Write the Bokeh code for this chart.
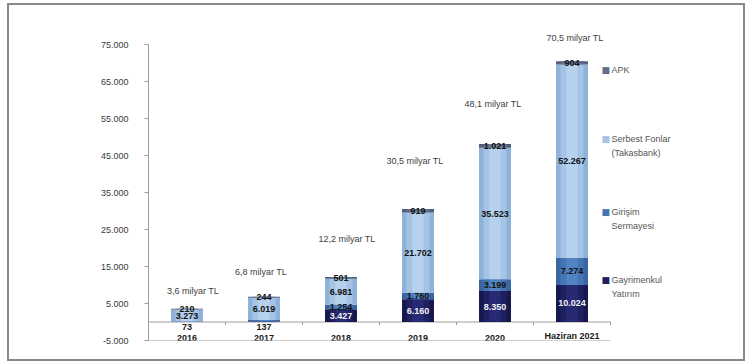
from bokeh.plotting import figure
from bokeh.models import ColumnDataSource, Range1d, FixedTicker, Label, InlineStyleSheet
from bokeh.core.properties import value
from bokeh.embed import file_html
from bokeh.resources import INLINE

# --- data (million TL) ---
years = ["2016", "2017", "2018", "2019", "2020", "Haziran 2021"]
gayrimenkul = [73, 137, 3427, 6160, 8350, 10024]
girisim = [44, 400, 1254, 1760, 3199, 7274]
serbest = [3273, 6019, 6981, 21702, 35523, 52267]
apk = [210, 244, 501, 919, 1021, 904]
y_ticks = [-5000, 5000, 15000, 25000, 35000, 45000, 55000, 65000, 75000]

series_keys = ["gayrimenkul", "girisim", "serbest", "apk"]
series_labels = [["Gayrimenkul", "Yatırım"], ["Girişim", "Sermayesi"],
                 ["Serbest Fonlar", "(Takasbank)"], ["APK"]]
# column shading: outer edge, body, centre highlight
edge_colors = ["#16174d", "#3a65a3", "#8fb2d9", "#4f5d75"]
body_colors = ["#1e2060", "#4675b5", "#a4c3e5", "#5f6f8a"]
centre_colors = ["#272a72", "#5283c2", "#b6d1ee", "#6e7f9a"]

# --- layout geometry (pixels) ---
W, H = 753, 364
F_LEFT, F_BOTTOM = 148, 340
SLOT = 77                         # pixel width of one category slot
AX_TOP = 44                       # pixel row of the 75.000 tick
F_TOP = 20
y_lo, y_hi = y_ticks[0], y_ticks[-1]
upp = (y_hi - y_lo) / (F_BOTTOM - AX_TOP)   # y units per pixel
y_end = y_hi + (AX_TOP - F_TOP) * upp
x_end = (W - F_LEFT) / SLOT
n = len(years)
xs = [i + 0.5 for i in range(n)]          # category centres

def y_at(px):
    return y_hi - (px - AX_TOP) * upp

def x_at(px):
    return (px - F_LEFT) / SLOT

frame_css = InlineStyleSheet(css="""
:host { position: relative; }
:host::after {
  content: ""; position: absolute; left: 7px; top: 3px; width: 738px; height: 358px;
  border: 2px solid #8a8a8a; box-sizing: border-box; pointer-events: none;
}
""")

p = figure(width=W, height=H, x_range=Range1d(0, x_end), y_range=Range1d(y_lo, y_end),
           output_backend="svg", toolbar_location=None,
           min_border_left=F_LEFT, min_border_right=0,
           min_border_top=F_TOP, min_border_bottom=H - F_BOTTOM,
           stylesheets=[frame_css])
p.outline_line_color = None
p.xgrid.visible = False
p.ygrid.visible = False
p.background_fill_color = "white"
p.border_fill_color = "white"

# y axis
ax_col = "#a39c95"
p.yaxis.ticker = FixedTicker(ticks=y_ticks)
p.yaxis.bounds = (y_lo, y_hi)
p.yaxis.major_label_overrides = {t: f"{t:,}".replace(",", ".") for t in y_ticks}
p.yaxis.axis_line_color = ax_col
p.yaxis.major_tick_line_color = ax_col
p.yaxis.major_tick_out = 4
p.yaxis.major_tick_in = 0
p.yaxis.minor_tick_line_color = None
p.yaxis.major_label_standoff = 16
p.yaxis.major_label_text_font = "Liberation Sans"
p.yaxis.major_label_text_font_size = "9px"
p.yaxis.major_label_text_color = "#3a3a3a"
p.xaxis.visible = False

# zero line and bottom line of the category area
p.segment(x0=[0, 0], y0=[0, y_lo], x1=[n, n], y1=[0, y_lo], line_color=ax_col, line_width=1)

# small category-boundary ticks on the zero line
tick_len = 3 * upp
bounds_x = [i + 1 for i in range(n)]
p.segment(x0=bounds_x, y0=[0] * n, x1=bounds_x, y1=[-tick_len] * n, line_color=ax_col)

# stacked columns, drawn in three widths for a rounded look
src = ColumnDataSource(dict(x=xs, gayrimenkul=gayrimenkul, girisim=girisim,
                            serbest=serbest, apk=apk))
p.vbar_stack(series_keys, x="x", width=0.415, color=edge_colors, line_color=None, source=src)
p.vbar_stack(series_keys, x="x", width=0.30, color=body_colors, line_color=None, source=src)
p.vbar_stack(series_keys, x="x", width=0.15, color=centre_colors, line_color=None, source=src)

totals = [a + b + c + d for a, b, c, d in zip(gayrimenkul, girisim, serbest, apk)]

# segment value labels
lx, ly, lt, lc, loff = [], [], [], [], []
for i, xc in enumerate(xs):
    base = 0
    for key, vals in zip(series_keys, [gayrimenkul, girisim, serbest, apk]):
        v = vals[i]
        txt = f"{v:,}".replace(",", ".")
        if key == "gayrimenkul" and v < 1000:
            lx.append(xc); ly.append(0); lt.append(txt); lc.append("#1a1a1a"); loff.append(5)
        elif key == "girisim" and v < 1000:
            pass
        else:
            col = "#f2f2f2" if key == "gayrimenkul" else "#111111"
            lx.append(xc); ly.append(base + v / 2); lt.append(txt); lc.append(col); loff.append(0)
        base += v
p.text(x=lx, y=ly, text=lt, text_color=lc, y_offset=loff, text_align="center",
       text_baseline="middle", text_font=value("Liberation Sans"), text_font_size="9px",
       text_font_style="bold")

# totals above the columns
tot_text = [f"{t / 1000:.1f}".replace(".", ",") + " milyar TL" for t in totals]
tot_dx = [6, -3, 6, -3, -2, 3]
tot_dy = [-18, -25, -38, -48, -40, -23]
p.text(x=xs, y=totals, text=tot_text, x_offset=tot_dx, y_offset=tot_dy,
       text_align="center", text_baseline="middle", text_font=value("Liberation Sans"),
       text_font_size="9px", text_color="#404040")

# category labels
p.text(x=xs, y=[y_lo] * n, text=years, text_align="center", text_baseline="bottom",
       text_font=value("Liberation Sans"), text_font_size="9px", text_font_style="bold",
       text_color="#1a1a1a")

# legend on the right
leg_rows = [279, 211, 138, 69]
for lines, col, row in zip(series_labels, body_colors, leg_rows):
    p.add_layout(Label(x=x_at(601), y=y_at(row), text="■", text_color=col,
                       text_font_size="9px", text_baseline="middle", text_align="left",
                       text_font="DejaVu Sans"))
    for k, line in enumerate(lines):
        p.add_layout(Label(x=x_at(611), y=y_at(row + 14 * k), text=line, text_color="#555555",
                           text_font_size="9px", text_baseline="middle", text_align="left",
                           text_font="Liberation Sans"))

open("out.html", "w").write(file_html(p, INLINE))
